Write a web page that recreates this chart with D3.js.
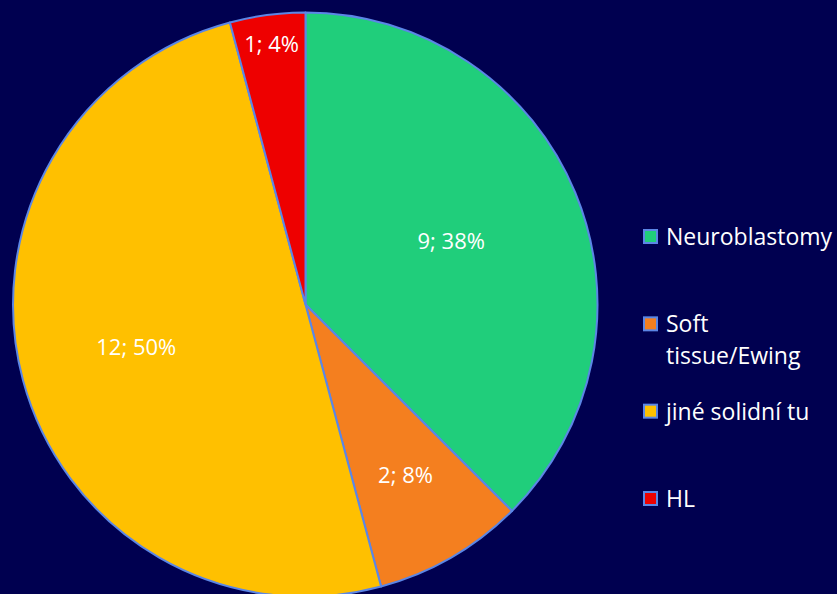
<!DOCTYPE html>
<html>
<head>
<meta charset="utf-8">
<script src="https://cdn.jsdelivr.net/npm/d3@7"></script>
<style>
  html, body { margin: 0; padding: 0; background: #000050; }
  svg { display: block; }
</style>
</head>
<body>
<div class="chartCont"></div>
<script>
var w = 837;
var h = 594;

// data
const categories = ["Neuroblastomy", "Soft tissue/Ewing", "jiné solidní tu", "HL"];
const counts = [9, 2, 12, 1];
const percents = ["38%", "8%", "50%", "4%"];
const colors = ["#20CE7B", "#F47F1F", "#FFC000", "#EE0000"];

// label distance from centre, as share of radius (Excel best fit)
const labelRadius = [0.54, 0.685, 0.6, 0.89];

var svg = d3.select(".chartCont").append("svg")
    .attr("width", w)
    .attr("height", h);

svg.append("rect")
    .attr("width", w)
    .attr("height", h)
    .attr("fill", "#000050");

var cx = 305.5, cy = 304.5, r = 292;

var pie = d3.pie()
    .sort(null)
    .value(d => d);

var arcs = pie(counts);

var arc = d3.arc()
    .innerRadius(0)
    .outerRadius(r);

var g = svg.append("g")
    .attr("transform", "translate(" + cx + "," + cy + ")");

g.selectAll("path.slice")
    .data(arcs)
    .enter()
    .append("path")
    .attr("class", "slice")
    .attr("d", arc)
    .attr("fill", (d, i) => colors[i])
    .attr("stroke", "#5B86E6")
    .attr("stroke-width", 2)
    .attr("stroke-linejoin", "round");

g.selectAll("text.lbl")
    .data(arcs)
    .enter()
    .append("text")
    .attr("class", "lbl")
    .attr("transform", (d, i) => {
        var lr = r * labelRadius[i];
        var c = d3.arc().innerRadius(lr).outerRadius(lr).centroid(d);
        return "translate(" + c[0] + "," + (c[1] - 3) + ")";
    })
    .attr("text-anchor", "middle")
    .attr("dy", "0.36em")
    .attr("fill", "#fff")
    .style("font-family", "'Open Sans', sans-serif")
    .style("font-size", "22px")
    .text((d, i) => counts[i] + "; " + percents[i]);

// legend
var legendY = d3.scalePoint()
    .domain(categories)
    .range([236.5, 498.5]);

var legend = svg.append("g")
    .attr("transform", "translate(643,0)");

var items = legend.selectAll("g.item")
    .data(categories)
    .enter()
    .append("g")
    .attr("class", "item")
    .attr("transform", d => "translate(0," + legendY(d) + ")");

items.append("rect")
    .attr("x", 1)
    .attr("y", -6.5)
    .attr("width", 13)
    .attr("height", 13)
    .attr("fill", (d, i) => colors[i])
    .attr("stroke", "#5B86E6")
    .attr("stroke-width", 2);

items.append("text")
    .attr("x", 23)
    .attr("y", 8.5)
    .attr("fill", "#fff")
    .style("font-family", "'Open Sans', sans-serif")
    .style("font-size", "23px")
    .each(function(d) {
        // wrap words that don't fit in the space left of the edge
        var el = d3.select(this);
        var words = d.split(" ");
        var line = [];
        var tspan = el.append("tspan").attr("x", 23);
        words.forEach(word => {
            line.push(word);
            tspan.text(line.join(" "));
            if (tspan.node().getComputedTextLength() > 170 && line.length > 1) {
                line.pop();
                tspan.text(line.join(" "));
                line = [word];
                tspan = el.append("tspan").attr("x", 23).attr("dy", 32).text(word);
            }
        });
    });
</script>
</body>
</html>
